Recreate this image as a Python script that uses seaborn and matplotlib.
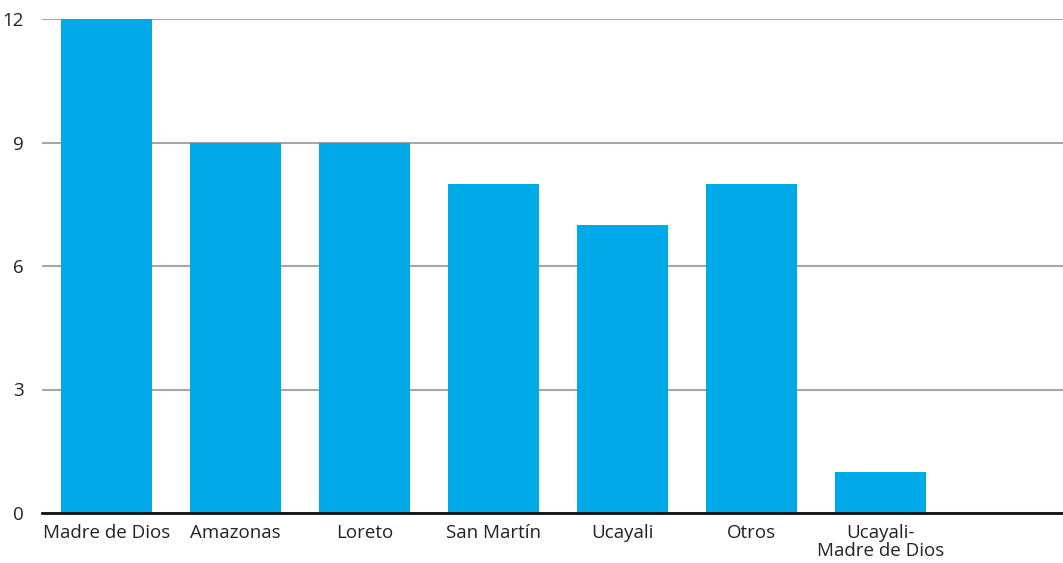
import matplotlib
matplotlib.use("Agg")
import matplotlib.pyplot as plt
import seaborn as sns
import pandas as pd

categories = ["Madre de Dios", "Amazonas", "Loreto", "San Martín", "Ucayali", "Otros", "Ucayali-\nMadre de Dios"]
values = [12, 9, 9, 8, 7, 8, 1]
yticks = [0, 3, 6, 9, 12]

sns.set_theme(style="white")
plt.rcParams['font.family'] = ['Open Sans', 'DejaVu Sans']

df = pd.DataFrame({"cat": categories, "val": values})

fig = plt.figure(figsize=(10.63, 5.63), dpi=100)
ax = fig.add_axes([42/1063, 50/563, 1 - 42/1063, 494/563])

sns.barplot(data=df, x="cat", y="val", order=categories, color="#00A9E8",
            width=0.7, saturation=1, linewidth=0, edgecolor="none", ax=ax, zorder=3)

ax.set_ylim(0, 12)
ax.set_xlim(-0.5, 7.415)
ax.set_yticks(yticks)
ax.set_yticklabels([str(t) for t in yticks], fontsize=13.5, color="#222222")
ax.tick_params(axis="x", labelsize=13.5, colors="#222222", length=0, pad=8)
for lab in ax.get_xticklabels():
    lab.set_linespacing(1.0)
ax.tick_params(axis="y", length=0, pad=13)
ax.set_xlabel("")
ax.set_ylabel("")
ax.grid(axis="y", color="#A6A6A6", linewidth=1.5, zorder=0)
for s in ["top", "right", "left"]:
    ax.spines[s].set_visible(False)
ax.spines["bottom"].set_color("#111111")
ax.spines["bottom"].set_linewidth(2)
ax.spines["bottom"].set_zorder(4)

fig.savefig("out.png", dpi=100)
